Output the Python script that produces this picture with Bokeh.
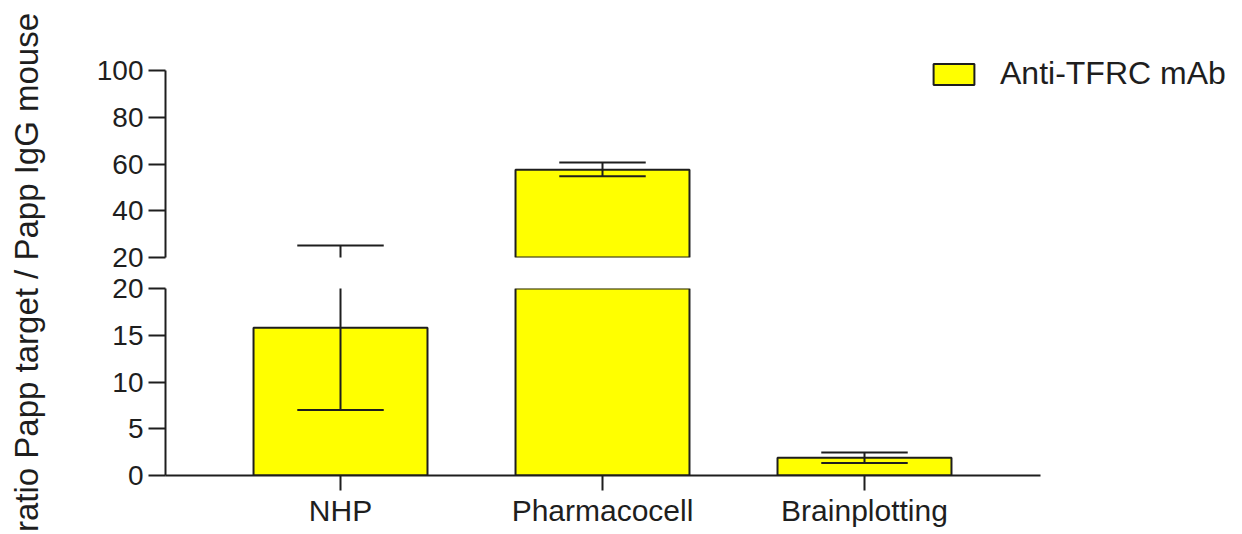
import numpy as np
from bokeh.plotting import figure
from bokeh.models import (Range1d, FixedTicker, Legend, LegendItem, Label,
                          ColumnDataSource, CDSView, BooleanFilter)
from bokeh.layouts import row, column
from bokeh.embed import file_html
from bokeh.resources import INLINE

# ---- data ----
categories = ["NHP", "Pharmacocell", "Brainplotting"]
means = [15.8, 57.5, 1.9]
err_low = [7.0, 54.8, 1.35]
err_high = [25.1, 60.6, 2.45]
series_name = "Anti-TFRC mAb"
upper_ticks = [20, 40, 60, 80, 100]
lower_ticks = [0, 5, 10, 15, 20]
y_label = "ratio Papp target / Papp IgG mouse"

FONT = "Liberation Sans"
INK = "#1e1e1e"
FILL = "#FFFF00"

x_pos = list(range(len(categories)))
BAR_W = 0.664
CAP = 0.165
src = ColumnDataSource(dict(
    x=x_pos, mean=means, lo=err_low, hi=err_high,
    cap_l=[v - CAP for v in x_pos], cap_r=[v + CAP for v in x_pos]))

# layout constants (screen geometry)
LABEL_W = 60
FRAME_W = 1065
X_START, X_END = -0.668, 3.397      # shared x scale (262 px per category)
AXIS_BOUNDS = (-0.668, 2.672)
x_range = Range1d(X_START, X_END)

SEG_H = 187                          # height of the 20..100 and 0..20 segments
UP_EXTRA = 30                        # extra room above "100" for the legend
UP_PX_PER_UNIT = SEG_H / (upper_ticks[-1] - upper_ticks[0])
UP_END = upper_ticks[-1] + UP_EXTRA / UP_PX_PER_UNIT


def make_fig(y_range, ticks, frame_h, top, bottom, with_xaxis, bar_view=None):
    p = figure(x_range=x_range, y_range=y_range,
               frame_width=FRAME_W, frame_height=frame_h,
               min_border_left=165 - LABEL_W, min_border_right=0,
               min_border_top=top, min_border_bottom=bottom,
               output_backend="svg", toolbar_location=None,
               x_axis_location="below" if with_xaxis else None)
    p.outline_line_color = None
    p.grid.visible = False
    ya = p.yaxis[0]
    ya.ticker = FixedTicker(ticks=ticks, minor_ticks=[])
    ya.bounds = (ticks[0], ticks[-1])
    ya.major_tick_out = 17
    ya.major_tick_in = 0
    ya.minor_tick_out = 0
    ya.minor_tick_in = 0
    ya.axis_line_width = 2
    ya.axis_line_color = INK
    ya.major_tick_line_width = 2
    ya.major_tick_line_color = INK
    ya.major_label_text_font = FONT
    ya.major_label_text_font_size = "28px"
    ya.major_label_text_color = INK
    ya.major_label_standoff = 5
    if with_xaxis:
        xa = p.xaxis[0]
        xa.ticker = FixedTicker(ticks=x_pos, minor_ticks=[])
        xa.major_label_overrides = {i: c for i, c in zip(x_pos, categories)}
        xa.bounds = AXIS_BOUNDS
        xa.major_tick_out = 15
        xa.major_tick_in = 0
        xa.minor_tick_out = 0
        xa.minor_tick_in = 0
        xa.axis_line_width = 2
        xa.axis_line_color = INK
        xa.major_tick_line_width = 2
        xa.major_tick_line_color = INK
        xa.major_label_text_font = FONT
        xa.major_label_text_font_size = "30px"
        xa.major_label_text_color = INK
        xa.major_label_standoff = 3
    kw = dict(view=bar_view) if bar_view is not None else {}
    bars = p.vbar(x="x", top="mean", bottom=0, width=BAR_W, source=src,
                  fill_color=FILL, line_color=INK, line_width=2, **kw)
    p.segment(x0="x", x1="x", y0="lo", y1="hi", source=src,
              line_color=INK, line_width=2)
    p.segment(x0="cap_l", x1="cap_r", y0="hi", y1="hi", source=src,
              line_color=INK, line_width=2)
    p.segment(x0="cap_l", x1="cap_r", y0="lo", y1="lo", source=src,
              line_color=INK, line_width=2)
    return p, bars


up_view = CDSView(filter=BooleanFilter([m > upper_ticks[0] for m in means]))
p_up, bars_up = make_fig(Range1d(upper_ticks[0], UP_END), upper_ticks,
                         SEG_H + UP_EXTRA, 70 - UP_EXTRA, 15, False, up_view)
p_lo, bars_lo = make_fig(Range1d(lower_ticks[0], lower_ticks[-1]), lower_ticks,
                         SEG_H, 16, 0, True)

legend = Legend(items=[LegendItem(label=series_name, renderers=[bars_up])],
                location=(763, 165), glyph_width=51, glyph_height=26,
                label_standoff=21, padding=0, margin=0, spacing=0,
                border_line_color=None, background_fill_alpha=0,
                label_text_font=FONT, label_text_font_size="32px",
                label_text_color=INK)
p_up.add_layout(legend)

TOTAL_H = 534
pl = figure(width=LABEL_W, height=TOTAL_H, x_range=Range1d(0, LABEL_W),
            y_range=Range1d(0, TOTAL_H), min_border=0, toolbar_location=None,
            output_backend="svg", x_axis_location=None, y_axis_location=None)
pl.outline_line_color = None
pl.grid.visible = False
pl.add_layout(Label(x=26, y=TOTAL_H - 272, text=y_label, angle=np.pi / 2,
                    text_align="center", text_baseline="middle",
                    text_font=FONT, text_font_size="33px", text_color=INK))

layout = row(pl, column(p_up, p_lo))
open("out.html", "w").write(file_html(layout, INLINE))
